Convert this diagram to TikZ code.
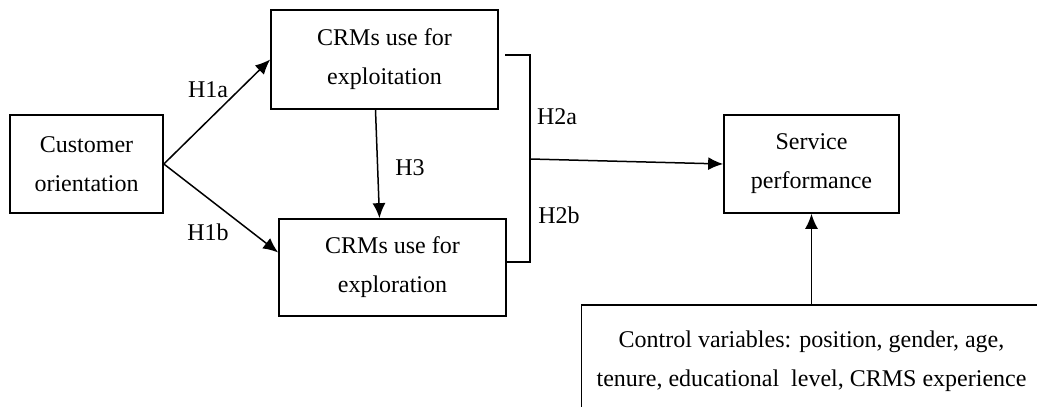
\documentclass[tikz,border=0pt]{standalone}
\usepackage{fontspec}
\setmainfont{Liberation Serif}
\usepackage{tikz}
\usetikzlibrary{arrows.meta,positioning,calc}

\begin{document}
\begin{tikzpicture}[
    x=1pt, y=1pt,
    line width=1.7pt,
    box/.style={rectangle, draw, align=center, inner sep=0pt, font=\fontsize{24}{39}\selectfont},
    lbl/.style={font=\fontsize{24}{29}\selectfont, inner sep=0pt},
    arr/.style={line width=1.5pt, -{Latex[length=15pt,width=13pt]}}
]
    \useasboundingbox (0,0) rectangle (1037,407);

    % Constructs
    \node[box, minimum width=153pt, minimum height=98pt] (cust) at (86.5,243) {Customer\\orientation};
    \node[box, minimum width=227pt, minimum height=99pt] (expt) at (384.5,347.5) {CRMs use for\\exploitation};
    \node[box, minimum width=227pt, minimum height=97pt] (expr) at (392.5,139.5) {CRMs use for\\exploration};
    \node[box, minimum width=175pt, minimum height=98pt] (svc) at (811.5,243) {Service\\performance};
    \node[box, minimum width=460pt, minimum height=114pt, below=90pt of svc] (ctrl)
        {Control variables: position, gender, age,\\tenure, educational\ \ level,\ CRMS experience};

    % Hypotheses H1a, H1b, H3
    \draw[arr] (cust.east) -- (expt.west);
    \draw[arr] (cust.east) -- ([yshift=15pt]expr.west);
    \draw[arr] ([xshift=-9pt]expt.south) -- ([xshift=-13pt]expr.north);
    \node[lbl] (h1a) at (208,317) {H1a};
    \node[lbl] (h1b) at (208,175) {H1b};
    \node[lbl] (h3) at (410,239) {H3};

    % Bracket for H2a, H2b
    \coordinate (brtop) at (505,352);
    \coordinate (brbot) at (505,145);
    \coordinate (brmid) at (530,248);
    \draw (brtop) -| (brmid) |- (brbot);
    \draw[arr] (brmid) -- (svc.west);
    \node[lbl] (h2a) at (557,290) {H2a};
    \node[lbl] (h2b) at (559,192) {H2b};

    % Controls
    \draw[arr] (ctrl) -- (svc);
\end{tikzpicture}
\end{document}
